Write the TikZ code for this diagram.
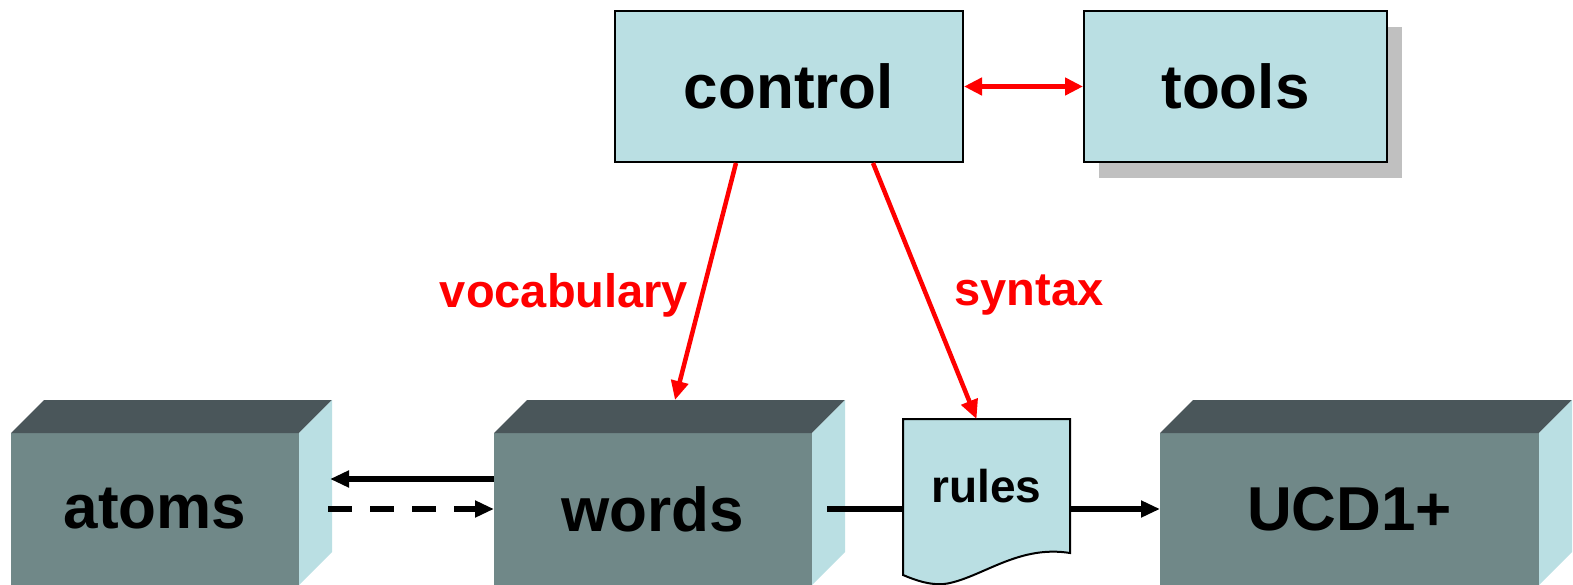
\documentclass[tikz,border=0pt]{standalone}
\usepackage{fontspec}
\setmainfont{Liberation Sans}
\usetikzlibrary{positioning, arrows.meta, shadows}

\definecolor{paleblue}{RGB}{186,223,227}
\definecolor{slate}{RGB}{112,136,136}
\definecolor{slatetop}{RGB}{74,86,90}
\definecolor{shadowgray}{RGB}{192,192,192}

\begin{document}
\begin{tikzpicture}[
    x=1pt, y=-1pt,
    box/.style={draw, line width=2pt, fill=paleblue, minimum height=151pt,
        font=\fontsize{62}{62}\selectfont\bfseries},
    store/.style={fill=slate, outer sep=0pt, minimum height=152pt,
        font=\fontsize{62}{62}\selectfont\bfseries},
    flow/.style={red, line width=4.5pt},
    link/.style={line width=5.5pt, -{Triangle[length=19pt,width=16pt]}},
    tag/.style={red, font=\fontsize{47}{47}\selectfont\bfseries}
]
\useasboundingbox (0,0) rectangle (1573,585);

% Control and tools
\node[box, minimum width=348pt] (control) at (789,86.5) {control};
\node[box, minimum width=303pt,
    drop shadow={shadow xshift=15pt, shadow yshift=-16pt, fill=shadowgray, opacity=1}]
    (tools) at (1235.5,86.5) {tools};

% Stores drawn as blocks
\foreach \name/\cx/\w/\lbl in {atoms/155/288/atoms, words/653/318/words, ucd/1349.5/379/UCD1+} {
    \node[store, minimum width=\w pt] (\name) at (\cx,509) {\lbl};
    \fill[slatetop] (\name.north west) -- ++(33,-33) -- ++(\w,0) -- (\name.north east) -- cycle;
    \fill[paleblue] (\name.north east) -- ++(33,-33) -- ++(0,152) -- (\name.south east) -- cycle;
}

% Rules document
\draw[line width=2pt, fill=paleblue] (903,419) -- (1070,419) -- (1070,553)
    .. controls (1020,545) and (985,575) .. (950,583)
    .. controls (933,587) and (915,580) .. (903,575) -- cycle;
\node[minimum width=167pt, minimum height=134pt, outer sep=0pt,
    font=\fontsize{46}{46}\selectfont\bfseries] (rules) at (986.5,486) {rules};

% Red connectors
\draw[flow, {Triangle[length=18pt,width=17pt]}-{Triangle[length=18pt,width=17pt]}] (control) -- (tools);
\draw[flow, -{Triangle[length=19pt,width=17pt]}] ([xshift=-53pt]control.south) -- ([shift={(22pt,33pt)}]words.north);
\draw[flow, -{Triangle[length=19pt,width=17pt]}] ([xshift=84pt]control.south) -- ([xshift=-10pt]rules.north);

% Labels
\node[tag] (vocab) at (564,295) {vocabulary};
\node[tag] (syntax) at (1029,295) {syntax};

% Black connectors
\draw[link] ([yshift=30pt]words.west) -- ([shift={(31pt,30pt)}]atoms.east);
\draw[link, dash pattern=on 24pt off 18pt] ([xshift=29pt]atoms.east) -- (words.west);
\draw[line width=5.5pt] ([xshift=15pt]words.east) -- (words.east -| rules.west);
\draw[link] (ucd.west -| rules.east) -- (ucd.west);

\end{tikzpicture}
\end{document}
